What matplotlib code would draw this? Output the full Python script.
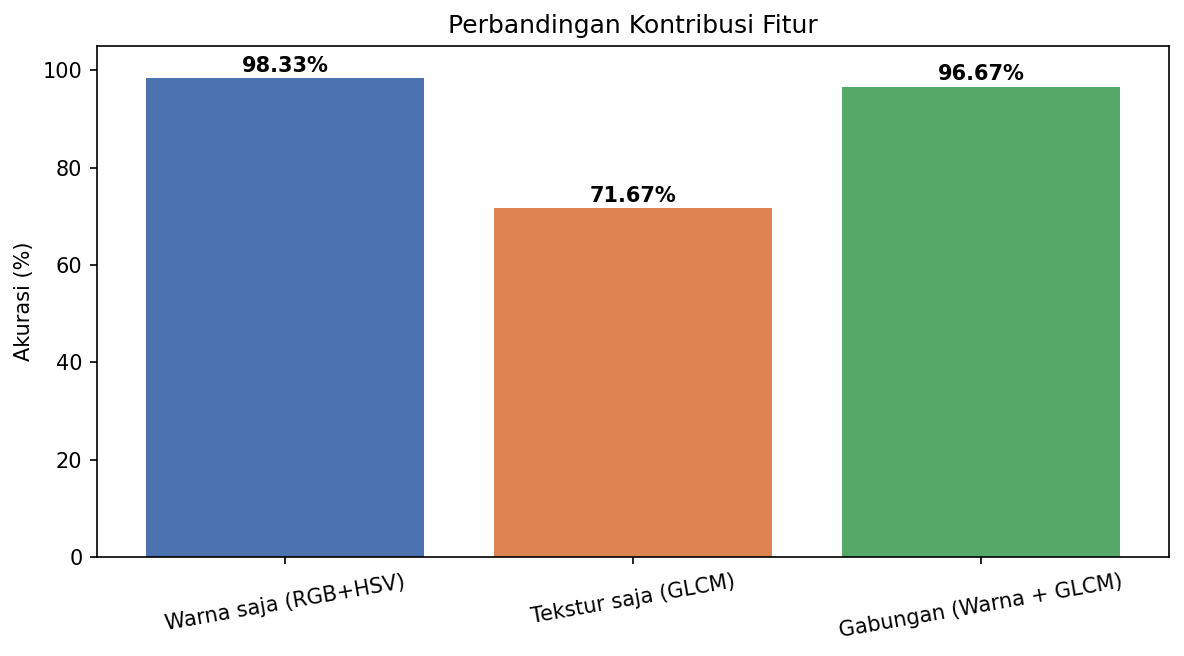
import matplotlib
matplotlib.use("Agg")
import matplotlib.pyplot as plt

categories = ["Warna saja (RGB+HSV)", "Tekstur saja (GLCM)", "Gabungan (Warna + GLCM)"]
accuracy = [98.33, 71.67, 96.67]
colors = ["#4C72B0", "#DD8452", "#55A868"]

fig = plt.figure(figsize=(1184/150, 656/150), dpi=150)
ax = fig.add_axes([97/1184, 1-557/656, (1169-97)/1184, (557-46)/656])
bars = ax.bar(categories, accuracy, color=colors)
for b, v in zip(bars, accuracy):
    ax.text(b.get_x()+b.get_width()/2, v+0.5, f"{v:.2f}%", ha="center", va="bottom", fontweight="bold", fontsize=10)
ax.set_ylim(0, 105)
ax.set_ylabel("Akurasi (%)")
ax.set_title("Perbandingan Kontribusi Fitur")
plt.setp(ax.get_xticklabels(), rotation=10)
fig.savefig("out.png", dpi=150)
